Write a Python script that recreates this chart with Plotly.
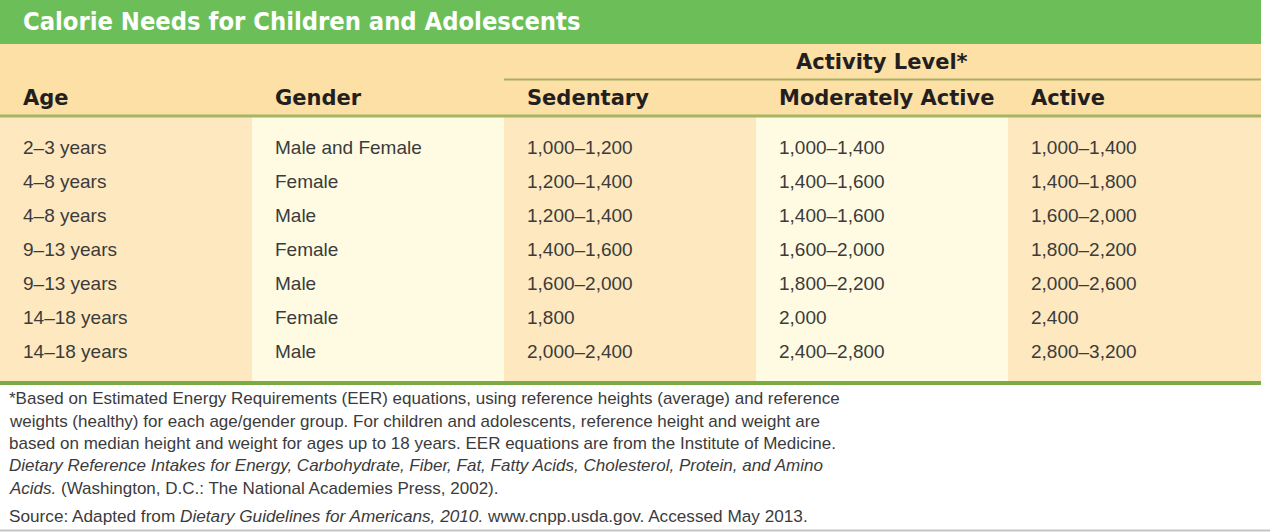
import plotly.graph_objects as go

# ---------------- data ----------------
title = "Calorie Needs for Children and Adolescents"
group_header = "Activity Level*"
columns = ["Age", "Gender", "Sedentary", "Moderately Active", "Active"]
ages = ["2–3 years", "4–8 years", "4–8 years", "9–13 years", "9–13 years", "14–18 years", "14–18 years"]
genders = ["Male and Female", "Female", "Male", "Female", "Male", "Female", "Male"]
sedentary = ["1,000–1,200", "1,200–1,400", "1,200–1,400", "1,400–1,600", "1,600–2,000", "1,800", "2,000–2,400"]
moderate = ["1,000–1,400", "1,400–1,600", "1,400–1,600", "1,600–2,000", "1,800–2,200", "2,000", "2,400–2,800"]
active = ["1,000–1,400", "1,400–1,800", "1,600–2,000", "1,800–2,200", "2,000–2,600", "2,400", "2,800–3,200"]
footnote_lines = [
    "*Based on Estimated Energy Requirements (EER) equations, using reference heights (average) and reference",
    "weights (healthy) for each age/gender group. For children and adolescents, reference height and weight are",
    "based on median height and weight for ages up to 18 years. EER equations are from the Institute of Medicine.",
    "<i>Dietary Reference Intakes for Energy, Carbohydrate, Fiber, Fat, Fatty Acids, Cholesterol, Protein, and Amino</i>",
    "<i>Acids.</i> (Washington, D.C.: The National Academies Press, 2002).",
]
source_line = "Source: Adapted from <i>Dietary Guidelines for Americans, 2010.</i> www.cnpp.usda.gov. Accessed May 2013."

# ---------------- layout constants ----------------
W, H = 1270, 532
TABLE_W = 1261
COL_W = 252
TITLE_H = 44
HEAD_TOP, HEAD_BOT = 44, 116
BODY_BOT = 381
ROW0, ROW_STEP = 147, 34
TEXT_PAD = 21

GREEN = "#6cbf58"
HEAD_BG = "#fde0a5"
BEIGE = "#fde8c0"
CREAM = "#fffbe3"
LINE_THIN = "#a9ad68"
LINE_HEAD = "#a4b665"
LINE_BOTTOM = "#7aab45"
TEXT = "#3b3b3b"
HEAD_TEXT = "#231f20"

BODY_FONT = "Liberation Sans, Arial, sans-serif"
HEAD_FONT = "DejaVu Sans, Verdana, sans-serif"

body_cols = [ages, genders, sedentary, moderate, active]

fig = go.Figure()
fig.add_trace(go.Scatter(x=[0, W], y=[0, H], mode="markers", marker=dict(opacity=0), hoverinfo="skip", showlegend=False))

shapes = []
shapes.append(dict(type="rect", x0=0, x1=TABLE_W, y0=0, y1=TITLE_H, fillcolor=GREEN, line_width=0, layer="below"))
shapes.append(dict(type="rect", x0=0, x1=TABLE_W, y0=HEAD_TOP, y1=HEAD_BOT, fillcolor=HEAD_BG, line_width=0, layer="below"))
for i in range(len(columns)):
    x1 = TABLE_W if i == len(columns) - 1 else (i + 1) * COL_W
    shapes.append(dict(type="rect", x0=i * COL_W, x1=x1, y0=HEAD_BOT, y1=BODY_BOT,
                       fillcolor=BEIGE if i % 2 == 0 else CREAM, line_width=0, layer="below"))
shapes.append(dict(type="line", x0=2 * COL_W, x1=TABLE_W, y0=79.5, y1=79.5, line=dict(color=LINE_THIN, width=2)))
shapes.append(dict(type="line", x0=0, x1=TABLE_W, y0=HEAD_BOT, y1=HEAD_BOT, line=dict(color=LINE_HEAD, width=3)))
shapes.append(dict(type="line", x0=0, x1=TABLE_W, y0=BODY_BOT + 2, y1=BODY_BOT + 2, line=dict(color=LINE_BOTTOM, width=4)))
shapes.append(dict(type="line", x0=0, x1=W, y0=H - 1.5, y1=H - 1.5, line=dict(color="#c4c4c4", width=2)))

ann = []
ann.append(dict(x=TEXT_PAD, y=21, text=title, xanchor="left", yanchor="middle", showarrow=False,
                font=dict(family="DejaVu Sans Condensed, Liberation Sans Narrow, sans-serif",
                          size=25.3, color="white", weight="bold")))
ann.append(dict(x=2 * COL_W + 1.5 * COL_W, y=62, text=group_header, xanchor="center", yanchor="middle", showarrow=False,
                font=dict(family=HEAD_FONT, size=21, color=HEAD_TEXT, weight="bold")))
for i, c in enumerate(columns):
    ann.append(dict(x=i * COL_W + TEXT_PAD, y=98, text=c, xanchor="left", yanchor="middle", showarrow=False,
                    font=dict(family=HEAD_FONT, size=21, color=HEAD_TEXT, weight="bold")))
for i, col in enumerate(body_cols):
    for r, v in enumerate(col):
        ann.append(dict(x=i * COL_W + TEXT_PAD, y=ROW0 + r * ROW_STEP, text=v, xanchor="left", yanchor="middle",
                        showarrow=False, font=dict(family=BODY_FONT, size=19, color=TEXT)))
foot_y = [398, 421, 443, 465, 488]
for y, line in zip(foot_y, footnote_lines):
    ann.append(dict(x=7, y=y, text=line, xanchor="left", yanchor="middle", showarrow=False,
                    font=dict(family=BODY_FONT, size=17, color=TEXT)))
ann.append(dict(x=7, y=516, text=source_line, xanchor="left", yanchor="middle", showarrow=False,
                font=dict(family=BODY_FONT, size=17.2, color=TEXT)))

fig.update_layout(
    width=W, height=H, margin=dict(l=0, r=0, t=0, b=0),
    paper_bgcolor="white", plot_bgcolor="white",
    xaxis=dict(range=[0, W], visible=False, fixedrange=True),
    yaxis=dict(range=[H, 0], visible=False, fixedrange=True),
    shapes=shapes, annotations=ann, showlegend=False,
)
fig.write_html("out.html", config={"displayModeBar": False},
               post_script="document.body.style.margin='0px';document.body.style.overflow='hidden';")
